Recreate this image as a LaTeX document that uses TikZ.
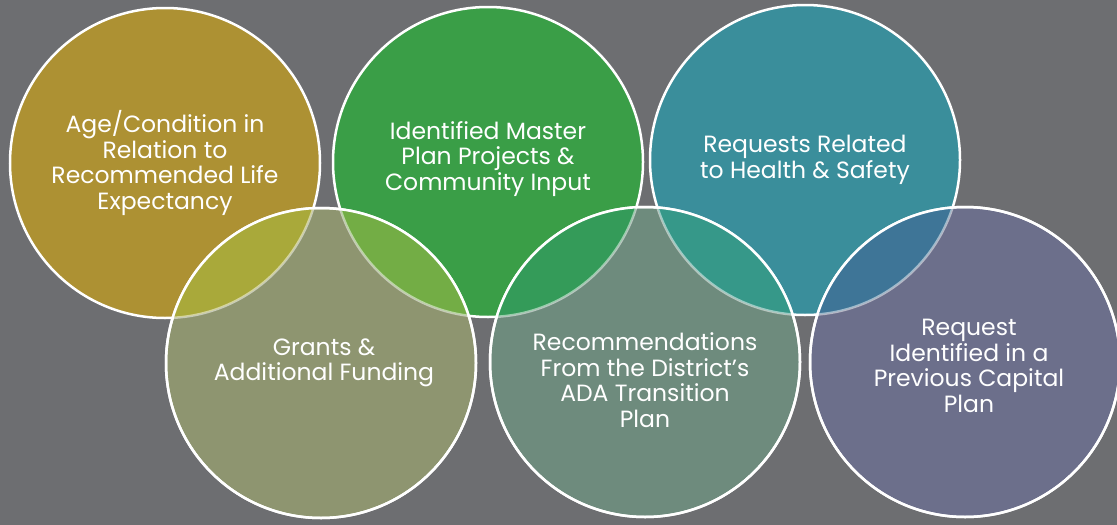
\documentclass[tikz,border=0pt]{standalone}
\usepackage{fontspec}
\setmainfont{Poppins}

\definecolor{slate}{HTML}{6D6E71}
\definecolor{mustard}{HTML}{AD9133}
\definecolor{leaf}{HTML}{3A9E47}
\definecolor{lagoon}{HTML}{3A8E9B}
\definecolor{moss}{HTML}{8E9570}
\definecolor{sage}{HTML}{6E8B7D}
\definecolor{dusk}{HTML}{6C6F8B}
% colours where two bubbles overlap
\definecolor{mustardmoss}{HTML}{A9A93A}
\definecolor{leafmoss}{HTML}{73AD45}
\definecolor{leafsage}{HTML}{349B59}
\definecolor{lagoonsage}{HTML}{369889}
\definecolor{lagoondusk}{HTML}{3E7597}

\tikzset{
  bubble/.style={circle, minimum size=310pt, inner sep=0pt, draw=white, line width=2.5pt},
  bubbletext/.style={text=white, align=center, inner sep=0pt,
    font=\fontsize{23.5}{25.5}\selectfont},
  rim/.style={draw=white, line width=2.5pt},
  fadedrim/.style={draw=white, draw opacity=0.5, line width=2.5pt}
}

\begin{document}
\begin{tikzpicture}[x=1pt,y=-1pt]
\useasboundingbox (0,0) rectangle (1117,525);
\fill[slate] (0,0) rectangle (1117,525);

\begin{scope}[every node/.style={bubble}]
	\node[fill=mustard] (age) at (165,163) {};
	\node[fill=leaf] (master) at (488,162) {};
	\node[fill=lagoon] (health) at (805,160) {};
	\node[fill=moss] (grants) at (321,363) {};
	\node[fill=sage] (ada) at (645,362) {};
	\node[fill=dusk] (capital) at (965,362) {};
\end{scope}

% overlaps of the lower row with the upper row
\begin{scope}
	\clip (grants.center) circle (155);
	\fill[mustardmoss] (age.center) circle (155);
	\fill[leafmoss] (master.center) circle (155);
	\path[fadedrim] (age.center) circle (155);
	\path[fadedrim] (master.center) circle (155);
\end{scope}
\begin{scope}
	\clip (ada.center) circle (155);
	\fill[leafsage] (master.center) circle (155);
	\fill[lagoonsage] (health.center) circle (155);
	\path[fadedrim] (master.center) circle (155);
	\path[fadedrim] (health.center) circle (155);
\end{scope}
\begin{scope}
	\clip (capital.center) circle (155);
	\fill[lagoondusk] (health.center) circle (155);
	\path[fadedrim] (health.center) circle (155);
\end{scope}
\path[rim] (grants.center) circle (155);
\path[rim] (ada.center) circle (155);
\path[rim] (capital.center) circle (155);

\begin{scope}[every node/.style={bubbletext}]
	\node (agetext) at (age.center) {Age/Condition in\\Relation to\\Recommended Life\\Expectancy};
	\node (mastertext) at ([yshift=3pt]master.center) {Identified Master\\Plan Projects \&\\Community Input};
	\node (healthtext) at (health.center) {Requests Related\\to Health \& Safety};
	\node (grantstext) at ([xshift=3pt]grants.center) {Grants \&\\Additional Funding};
	\node (adatext) at ([yshift=-18pt]ada.center) {Recommendations\\From the District’s\\ADA Transition\\Plan};
	\node (capitaltext) at ([xshift=4pt,yshift=-4pt]capital.center) {Request\\Identified in a\\Previous Capital\\Plan};
\end{scope}
\end{tikzpicture}
\end{document}
